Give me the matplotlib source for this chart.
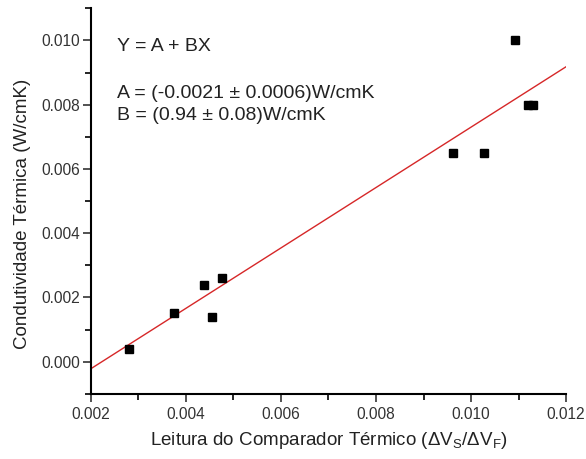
import matplotlib
matplotlib.use('Agg')
import matplotlib.pyplot as plt
from matplotlib.ticker import MultipleLocator

plt.rcParams['font.family'] = ['Liberation Sans', 'DejaVu Sans']
plt.rcParams['mathtext.fontset'] = 'custom'
plt.rcParams['mathtext.rm'] = 'Liberation Sans'
plt.rcParams['mathtext.it'] = 'Liberation Sans'

# leitura do comparador (dVs/dVf) e condutividade termica (W/cmK)
leitura = [0.0028, 0.00376, 0.00439, 0.00454, 0.00475, 0.00962, 0.01028, 0.01093, 0.0112, 0.0113]
condutividade = [0.0004, 0.0015, 0.0024, 0.0014, 0.0026, 0.0065, 0.0065, 0.0100, 0.0080, 0.0080]

A = -0.0021
B = 0.94
fit_x = [0.002, 0.012]
fit_y = [A + B * x for x in fit_x]

fig = plt.figure(figsize=(5.86, 4.59), dpi=100)
ax = fig.add_axes([0.155, 0.142, 0.811, 0.840])

ax.plot(fit_x, fit_y, color='#d62728', lw=1.0)
ax.plot(leitura, condutividade, linestyle='None', marker='s', markersize=5.2,
        color='black')

ax.set_xlim(0.002, 0.012)
ax.set_ylim(-0.001, 0.011)
ax.xaxis.set_major_locator(MultipleLocator(0.002))
ax.xaxis.set_minor_locator(MultipleLocator(0.001))
ax.yaxis.set_major_locator(MultipleLocator(0.002))
ax.yaxis.set_minor_locator(MultipleLocator(0.001))
ax.xaxis.set_major_formatter(plt.FormatStrFormatter('%.3f'))
ax.yaxis.set_major_formatter(plt.FormatStrFormatter('%.3f'))
ax.set_yticks([0.000, 0.002, 0.004, 0.006, 0.008, 0.010])

for s in ['top', 'right']:
    ax.spines[s].set_visible(False)
for s in ['left', 'bottom']:
    ax.spines[s].set_linewidth(1.5)
ax.tick_params(which='major', direction='out', length=6, width=1.2, labelsize=11.2, colors='#333333')
ax.tick_params(which='minor', direction='out', length=4, width=1.2)
ax.tick_params(axis='y', which='major', pad=1.5)
ax.tick_params(axis='both', labelcolor='#333333')

ax.set_xlabel(r'Leitura do Comparador Térmico ($\Delta$V$_S$/$\Delta$V$_F$)', fontsize=13.5,
              color='#222222', labelpad=6)
ax.set_ylabel('Condutividade Térmica (W/cmK)', fontsize=13.5, color='#222222')
ax.yaxis.set_label_coords(-0.126, 0.466)

ax.text(0.00256, 0.0098, 'Y = A + BX', fontsize=14, color='#222222', va='center')
ax.text(0.00256, 0.00835, 'A = (-0.0021 ± 0.0006)W/cmK', fontsize=14, color='#222222', va='center')
ax.text(0.00256, 0.00765, 'B = (0.94 ± 0.08)W/cmK', fontsize=14, color='#222222', va='center')

fig.savefig('out.png', dpi=100)
